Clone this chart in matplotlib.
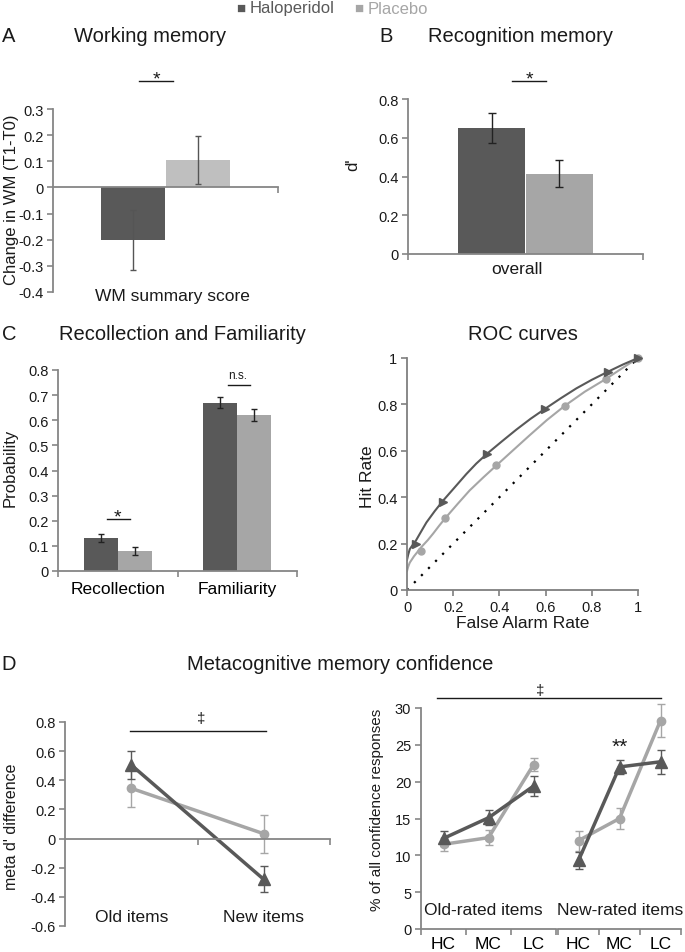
import matplotlib
matplotlib.use("Agg")
import matplotlib.pyplot as plt
import numpy as np

plt.rcParams['font.family'] = ['Liberation Sans', 'DejaVu Sans']

W, H = 685, 953
DARK = '#595959'
LIGHT = '#a6a6a6'
LIGHTER = '#bfbfbf'
AXGREY = '#868686'
TXT = '#1a1a1a'

# A - working memory
wm_change = [-0.2, 0.105]
wm_err = [0.115, 0.092]

# B - recognition memory
dprime = [0.65, 0.415]
dprime_err = [0.078, 0.07]

# C - recollection / familiarity
rf_labels = ['Recollection', 'Familiarity']
rf_halo = [0.13, 0.669]
rf_halo_err = [0.016, 0.022]
rf_plac = [0.078, 0.622]
rf_plac_err = [0.016, 0.023]

# ROC points and fitted curves
roc_halo_x = [0.038, 0.156, 0.346, 0.599, 0.87, 1.0]
roc_halo_y = [0.198, 0.381, 0.587, 0.782, 0.941, 1.0]
roc_plac_x = [0.062, 0.166, 0.387, 0.683, 0.86, 1.0]
roc_plac_y = [0.166, 0.31, 0.537, 0.794, 0.909, 1.0]
fit_halo_x = [0.0, 0.005, 0.012, 0.025, 0.038, 0.06, 0.084, 0.12, 0.156, 0.2, 0.257,
              0.3, 0.346, 0.41, 0.473, 0.535, 0.599, 0.665, 0.733, 0.8, 0.87, 0.935, 1.0]
fit_halo_y = [0.13, 0.152, 0.176, 0.195, 0.212, 0.25, 0.291, 0.34, 0.385, 0.435, 0.5,
              0.545, 0.587, 0.64, 0.691, 0.738, 0.782, 0.826, 0.869, 0.906, 0.941, 0.972, 1.0]
fit_plac_x = [0.0, 0.005, 0.012, 0.03, 0.062, 0.09, 0.113, 0.14, 0.166, 0.22, 0.271,
              0.33, 0.387, 0.46, 0.531, 0.605, 0.683, 0.77, 0.86, 0.93, 1.0]
fit_plac_y = [0.082, 0.1, 0.118, 0.145, 0.185, 0.215, 0.243, 0.278, 0.31, 0.372, 0.429,
              0.485, 0.537, 0.603, 0.667, 0.732, 0.794, 0.855, 0.909, 0.955, 1.0]

# D - metacognition
meta_labels = ['Old items', 'New items']
meta_halo = [0.505, -0.28]
meta_halo_err = [0.095, 0.09]
meta_plac = [0.345, 0.033]
meta_plac_err = [0.125, 0.13]

conf_labels = ['HC', 'MC', 'LC']
conf_old_halo = [12.3, 15.1, 19.4]
conf_old_halo_err = [1.0, 1.0, 1.4]
conf_old_plac = [11.5, 12.4, 22.3]
conf_old_plac_err = [0.9, 1.0, 0.9]
conf_new_halo = [9.3, 22.0, 22.7]
conf_new_halo_err = [1.1, 1.0, 1.6]
conf_new_plac = [12.0, 15.0, 28.3]
conf_new_plac_err = [1.35, 1.4, 2.2]

fig = plt.figure(figsize=(W / 100, H / 100), dpi=100)


def px_ax(l, t, r, b):
    return fig.add_axes([l / W, 1 - b / H, (r - l) / W, (b - t) / H])


def px_text(x, y, s, **kw):
    kw.setdefault('color', TXT)
    kw.setdefault('ha', 'center')
    kw.setdefault('va', 'center')
    fig.text(x / W, 1 - y / H, s, **kw)


def style(ax, col=AXGREY):
    for s in ['top', 'right']:
        ax.spines[s].set_visible(False)
    for s in ['left', 'bottom']:
        ax.spines[s].set_color(col)
        ax.spines[s].set_linewidth(1.3)
    ax.tick_params(direction='out', length=4, width=1.2, color=col,
                   labelsize=10.5, labelcolor=TXT, pad=3)
    ax.patch.set_alpha(0)


def set_yt(ax, vals):
    ax.set_yticks(vals)
    ax.set_yticklabels(['{:g}'.format(round(v, 2)) for v in vals])


# legend
px_text(241, 9, '■', color=DARK, fontsize=11)
px_text(250, 9, 'Haloperidol', color=DARK, fontsize=12, ha='left')
px_text(359, 9, '■', color=LIGHT, fontsize=11)
px_text(368, 9, 'Placebo', color=LIGHT, fontsize=12, ha='left')

# panel titles
px_text(9, 37, 'A', fontsize=14.5)
px_text(150, 37, 'Working memory', fontsize=14.5)
px_text(386, 37, 'B', fontsize=14.5)
px_text(521, 37, 'Recognition memory', fontsize=14.5)
px_text(9, 335, 'C', fontsize=14.5)
px_text(182, 335, 'Recollection and Familiarity', fontsize=14.5)
px_text(523, 335, 'ROC curves', fontsize=14.5)
px_text(9, 665, 'D', fontsize=14.5)
px_text(340, 665, 'Metacognitive memory confidence', fontsize=14.5)

bw = 0.285
offs = [-0.143, 0.143]

# ---- A
axA = px_ax(53, 110, 278, 293)
style(axA)
for i, c in enumerate([DARK, LIGHTER]):
    axA.bar(offs[i], wm_change[i], bw, color=c, yerr=wm_err[i],
            error_kw=dict(ecolor='#555555', elinewidth=1, capsize=2, capthick=1))
axA.set_xlim(-0.5, 0.5)
axA.set_ylim(-0.4, 0.3)
axA.spines['bottom'].set_position(('data', 0))
axA.set_xticks([0.5])
axA.set_xticklabels([])
set_yt(axA, [-0.4, -0.3, -0.2, -0.1, 0, 0.1, 0.2, 0.3])
axA.plot([-0.118, 0.033], [0.407, 0.407], color=TXT, lw=1, clip_on=False)
axA.text(-0.042, 0.396, '*', ha='center', va='baseline', fontsize=14, color=TXT)
px_text(172, 297, 'WM summary score', fontsize=12.5)
px_text(12, 200, 'Change in WM (T1-T0)', fontsize=12, rotation=90)

# ---- B
axB = px_ax(408, 100, 643, 255)
style(axB)
for i, c in enumerate([DARK, LIGHT]):
    axB.bar(offs[i], dprime[i], bw, color=c, yerr=dprime_err[i],
            error_kw=dict(ecolor='#222222', elinewidth=1, capsize=3, capthick=1))
axB.set_xlim(-0.5, 0.5)
axB.set_ylim(0, 0.8)
axB.set_xticks([-0.5, 0.5])
axB.set_xticklabels([])
set_yt(axB, [0, 0.2, 0.4, 0.6, 0.8])
axB.plot([-0.057, 0.087], [0.893, 0.893], color=TXT, lw=1, clip_on=False)
axB.text(0.015, 0.882, '*', ha='center', va='baseline', fontsize=14, color=TXT)
px_text(517, 270, 'overall', fontsize=12.5)
px_text(353, 165, "d'", fontsize=12, rotation=90)

# ---- C
axC = px_ax(58, 371, 297, 572)
style(axC)
xc = np.arange(len(rf_labels))
axC.bar(xc - 0.143, rf_halo, bw, color=DARK, yerr=rf_halo_err,
        error_kw=dict(ecolor='#222222', elinewidth=1, capsize=2.5, capthick=1))
axC.bar(xc + 0.143, rf_plac, bw, color=LIGHT, yerr=rf_plac_err,
        error_kw=dict(ecolor='#222222', elinewidth=1, capsize=2.5, capthick=1))
axC.set_xlim(-0.5, 1.5)
axC.set_ylim(0, 0.8)
axC.set_xticks([-0.5, 0.5, 1.5])
axC.set_xticklabels([])
axC.set_xticks(xc, rf_labels, minor=True)
axC.tick_params(axis='x', which='minor', length=0, labelsize=12.5, pad=7)
set_yt(axC, [0, 0.1, 0.2, 0.3, 0.4, 0.5, 0.6, 0.7, 0.8])
axC.plot([-0.09, 0.10], [0.207, 0.207], color=TXT, lw=1)
axC.text(0.0, 0.196, '*', ha='center', va='baseline', fontsize=14, color=TXT)
axC.plot([0.92, 1.107], [0.741, 0.741], color=TXT, lw=1)
axC.text(1.0, 0.758, 'n.s.', ha='center', va='bottom', fontsize=8.5, color=TXT)
px_text(10, 468, 'Probability', fontsize=12, rotation=90)

# ---- ROC
axR = px_ax(407, 359, 638, 591)
style(axR, '#7f7f7f')
axR.plot([0, 1], [0, 1], ls=(0, (1, 3.5)), color='black', lw=1.6)
axR.plot(fit_plac_x, fit_plac_y, color=LIGHT, lw=1.5)
axR.plot(fit_halo_x, fit_halo_y, color=DARK, lw=1.5)
axR.plot(roc_plac_x, roc_plac_y, 'o', color=LIGHT, ms=5, clip_on=False)
axR.plot(roc_halo_x, roc_halo_y, '>', color=DARK, ms=5.5, clip_on=False)
axR.set_xlim(0, 1)
axR.set_ylim(0, 1)
rt = [0, 0.2, 0.4, 0.6, 0.8, 1]
axR.set_xticks(rt)
axR.set_xticklabels(['{:g}'.format(v) for v in rt])
set_yt(axR, rt)
axR.set_xlabel('False Alarm Rate', fontsize=12.5, color=TXT, labelpad=1)
px_text(367, 477, 'Hit Rate', fontsize=12.5, rotation=90)

# ---- D left
axDL = px_ax(65, 723, 330, 927)
style(axDL)
xm = [0.5, 1.5]
axDL.errorbar(xm, meta_plac, yerr=meta_plac_err, color=LIGHT, lw=2.5, marker='o',
              ms=6, ecolor=LIGHT, elinewidth=1, capsize=3, capthick=1)
axDL.errorbar(xm, meta_halo, yerr=meta_halo_err, color=DARK, lw=2.5, marker='^',
              ms=8, ecolor=DARK, elinewidth=1, capsize=3, capthick=1)
axDL.set_xlim(0, 2)
axDL.set_ylim(-0.6, 0.8)
axDL.spines['bottom'].set_position(('data', 0))
axDL.set_xticks([1, 2])
axDL.set_xticklabels([])
set_yt(axDL, [-0.6, -0.4, -0.2, 0, 0.2, 0.4, 0.6, 0.8])
for x, lab in zip(xm, meta_labels):
    axDL.text(x, -0.535, lab, ha='center', va='center', fontsize=12.5, color=TXT)
axDL.plot([0.49, 1.52], [0.738, 0.738], color=TXT, lw=1, clip_on=False)
axDL.text(1.03, 0.83, '‡', ha='center', va='center', fontsize=11, color=TXT)
px_text(12, 827, "meta d' difference", fontsize=11.5, rotation=90)

# ---- D right (two groups)
axD1 = px_ax(421, 709, 556, 930)
axD2 = px_ax(558, 709, 681, 930)
style(axD1)
style(axD2)
axD2.spines['left'].set_visible(False)
axD2.tick_params(axis='y', left=False, labelleft=False)
xk = np.arange(len(conf_labels))
for ax, ph, phe, hh, hhe in [(axD1, conf_old_plac, conf_old_plac_err, conf_old_halo, conf_old_halo_err),
                             (axD2, conf_new_plac, conf_new_plac_err, conf_new_halo, conf_new_halo_err)]:
    ax.errorbar(xk, ph, yerr=phe, color=LIGHT, lw=2.5, marker='o', ms=6,
                ecolor=LIGHT, elinewidth=1, capsize=3, capthick=1, clip_on=False)
    ax.errorbar(xk, hh, yerr=hhe, color=DARK, lw=2.5, marker='^', ms=8,
                ecolor=DARK, elinewidth=1, capsize=3, capthick=1, clip_on=False)
    ax.set_xlim(-0.5, 2.5)
    ax.set_ylim(0, 30)
    ax.set_xticks([-0.5, 0.5, 1.5, 2.5])
    ax.set_xticklabels([])
    ax.set_xticks(xk, conf_labels, minor=True)
    ax.tick_params(axis='x', which='minor', length=0, labelsize=12.5, pad=5)
set_yt(axD1, [0, 5, 10, 15, 20, 25, 30])
axD1.text(0.88, 2.7, 'Old-rated items', ha='center', va='center', fontsize=12.5, color=TXT)
axD2.text(1.01, 2.7, 'New-rated items', ha='center', va='center', fontsize=12.5,
          color=TXT, clip_on=False)
axD2.text(1.0, 24.8, '**', ha='center', va='center', fontsize=15, color=TXT)
axD1.plot([-0.14, 4.83], [31.3, 31.3], color=TXT, lw=1, clip_on=False)
axD1.text(2.14, 32.4, '‡', ha='center', va='center', fontsize=11, color=TXT)
px_text(377, 810, '% of all confidence responses', fontsize=11, rotation=90)

fig.savefig('out.png', dpi=100)
